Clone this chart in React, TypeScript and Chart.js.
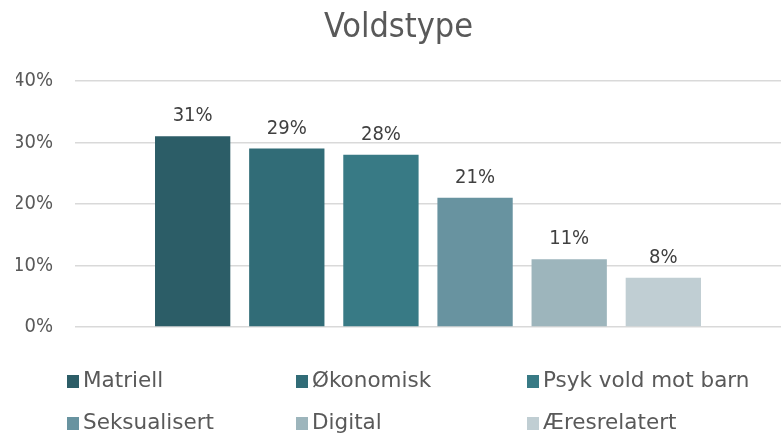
import React, { useEffect, useRef } from "react";
import { Chart, registerables } from "chart.js";

Chart.register(...registerables);

const categories = [""];
const seriesNames = ["Matriell", "Økonomisk", "Psyk vold mot barn", "Seksualisert", "Digital", "Æresrelatert"];
const seriesValues = [31, 29, 28, 21, 11, 8];
const seriesColors = ["#2C5D67", "#316C77", "#387A85", "#6893A0", "#9DB5BC", "#C0CED3"];
const yTicks = [0, 10, 20, 30, 40];

const FONT_C = "'DejaVu Sans Condensed', 'DejaVu Sans', sans-serif";
const FONT = "'DejaVu Sans', sans-serif";

const dataLabelPlugin = {
  id: "dataLabels",
  afterDatasetsDraw(chart: any) {
    const ctx = chart.ctx;
    ctx.save();
    ctx.font = `20px ${FONT_C}`;
    ctx.fillStyle = "#404040";
    ctx.textAlign = "center";
    ctx.textBaseline = "alphabetic";
    chart.data.datasets.forEach((ds: any, i: number) => {
      const meta = chart.getDatasetMeta(i);
      meta.data.forEach((bar: any, j: number) => {
        ctx.fillText(`${ds.data[j]}%`, bar.x, bar.y - 15);
      });
    });
    ctx.restore();
  },
};

const legendPlugin = {
  id: "gridLegend",
  afterDraw(chart: any) {
    const ctx = chart.ctx;
    const colX = [67, 296, 527];
    const rowY = [381, 423];
    ctx.save();
    ctx.font = `21.5px ${FONT}`;
    ctx.textBaseline = "middle";
    ctx.textAlign = "left";
    chart.data.datasets.forEach((ds: any, i: number) => {
      const x = colX[i % 3];
      const y = rowY[Math.floor(i / 3)];
      ctx.fillStyle = ds.backgroundColor;
      ctx.fillRect(x, y - 6, 12, 13);
      ctx.fillStyle = "#595959";
      ctx.fillText(ds.label, x + 16, y);
    });
    ctx.restore();
  },
};

export default function App() {
  const ref = useRef<HTMLCanvasElement>(null);
  useEffect(() => {
    document.body.style.margin = "0";
    const chart = new Chart(ref.current!, {
      type: "bar",
      data: {
        labels: categories,
        datasets: seriesNames.map((name, i) => ({
          label: name,
          data: [seriesValues[i]],
          backgroundColor: seriesColors[i],
          borderWidth: 0,
          barPercentage: 0.8,
          categoryPercentage: 0.8,
        })),
      },
      options: {
        responsive: false,
        animation: false,
        layout: { padding: { left: 16, right: 0, top: 0, bottom: 112 } },
        plugins: {
          legend: { display: false },
          tooltip: { enabled: false },
          title: {
            display: true,
            text: "Voldstype",
            color: "#595959",
            font: { family: FONT_C, size: 34, weight: "normal" },
            padding: { top: 8, bottom: 32 },
          },
        },
        scales: {
          x: { display: false },
          y: {
            min: yTicks[0],
            max: yTicks[yTicks.length - 1],
            afterBuildTicks: (scale: any) => {
              scale.ticks = yTicks.map((v) => ({ value: v }));
            },
            afterFit: (scale: any) => {
              scale.width = 59;
            },
            ticks: {
              callback: (v: any) => `${v}%`,
              color: "#595959",
              font: { family: FONT_C, size: 20 },
              padding: 22,
            },
            grid: { color: "#D9D9D9", lineWidth: 1.5, drawTicks: false },
            border: { display: false },
          },
        },
      },
      plugins: [dataLabelPlugin, legendPlugin],
    });
    return () => chart.destroy();
  }, []);
  return (
    <div style={{ width: 781, height: 439, background: "#fff" }}>
      <canvas ref={ref} width={781} height={439} />
    </div>
  );
}
